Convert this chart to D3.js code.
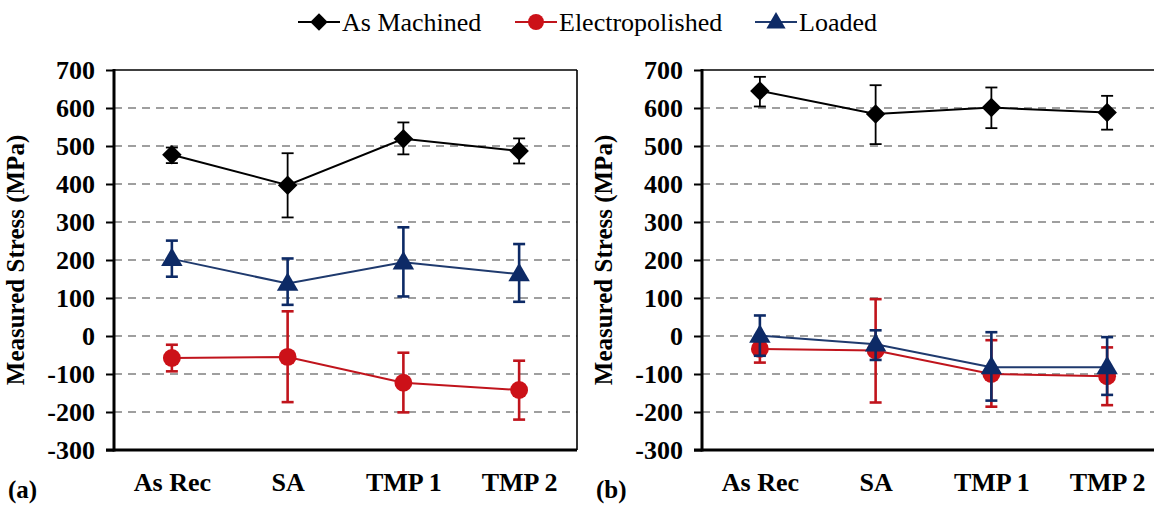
<!DOCTYPE html>
<html><head><meta charset="utf-8">
<script src="https://cdn.jsdelivr.net/npm/d3@7"></script>
<style>body{margin:0;background:#fff}svg{display:block}</style>
</head><body>
<svg id="c" width="1154" height="506"></svg>
<script>
const categories = ["As Rec", "SA", "TMP 1", "TMP 2"];
const yTicks = [700, 600, 500, 400, 300, 200, 100, 0, -100, -200, -300];
const seriesNames = ["As Machined", "Electropolished", "Loaded"];

// Panel (a)
const aMachined     = [477, 397, 519, 487];
const aMachinedLo   = [455, 312, 478, 454];
const aMachinedHi   = [496, 481, 562, 520];
const aElectro      = [-58, -55, -123, -142];
const aElectroLo    = [-93, -174, -201, -220];
const aElectroHi    = [-23, 65, -44, -65];
const aLoaded       = [203, 138, 194, 163];
const aLoadedLo     = [156, 82, 104, 90];
const aLoadedHi     = [251, 204, 286, 242];

// Panel (b)
const bMachined     = [645, 584, 601, 588];
const bMachinedLo   = [604, 505, 547, 543];
const bMachinedHi   = [682, 660, 654, 632];
const bElectro      = [-34, -38, -100, -106];
const bElectroLo    = [-70, -175, -186, -182];
const bElectroHi    = [-3, 97, -11, -30];
const bLoaded       = [1, -22, -82, -82];
const bLoadedLo     = [-52, -63, -170, -155];
const bLoadedHi     = [54, 15, 10, -3];

const diamond = {draw(ctx, size) { const r = Math.sqrt(size / 2); ctx.moveTo(0, -r); ctx.lineTo(r, 0); ctx.lineTo(0, r); ctx.lineTo(-r, 0); ctx.closePath(); }};

const styles = {
  "As Machined":     {line:"#000000", marker:"#000000", err:"#000000", sym:diamond, size:190},
  "Electropolished": {line:"#c0141c", marker:"#cc1118", err:"#c0141c", sym:d3.symbolCircle, size:250},
  "Loaded":          {line:"#1f3a6e", marker:"#0d2a66", err:"#0d2a66", sym:d3.symbolTriangle, size:200}
};

const svg = d3.select("#c");
const FONT = '"Liberation Serif"';
const fmt = d => String(d);
function txt(sel, size, bold) {
  return sel.style("font-family", FONT).style("font-size", size + "px")
    .style("font-weight", bold ? "bold" : "normal").attr("fill", "#000");
}

function panel(x0, tag, data) {
  const W = 463, top = 70, bottom = 450;
  const x = d3.scalePoint().domain(categories).range([x0, x0 + W]).padding(0.5);
  const y = d3.scaleLinear().domain([-300, 700]).range([bottom, top]);
  const g = svg.append("g");

  g.selectAll("line.grid").data(yTicks.filter(t => t !== 700 && t !== -300)).join("line")
    .attr("x1", x0).attr("x2", x0 + W).attr("y1", d => y(d)).attr("y2", d => y(d))
    .attr("stroke", "#808080").attr("stroke-width", 1.6).attr("stroke-dasharray", "8,6");

  g.append("line").attr("x1", x0).attr("x2", x0 + W).attr("y1", top).attr("y2", top)
    .attr("stroke", "#000").attr("stroke-width", 1.6);
  g.append("line").attr("x1", x0 + W).attr("x2", x0 + W).attr("y1", top).attr("y2", bottom)
    .attr("stroke", "#000").attr("stroke-width", 1.6);

  const yAxis = d3.axisLeft(y).tickValues(yTicks).tickSize(8).tickPadding(11).tickFormat(fmt);
  const ya = g.append("g").attr("transform", `translate(${x0},0)`).call(yAxis);
  ya.attr("font-family", null).attr("font-size", null);
  ya.select(".domain").remove();
  ya.selectAll(".tick line").attr("stroke", "#000").attr("stroke-width", 2);
  txt(ya.selectAll(".tick text"), 26, true).attr("dy", "0.33em");
  g.append("line").attr("x1", x0).attr("x2", x0).attr("y1", top - 1).attr("y2", bottom + 1.5)
    .attr("stroke", "#000").attr("stroke-width", 3);

  const xAxis = d3.axisBottom(x).tickSize(0).tickPadding(23);
  const xa = g.append("g").attr("transform", `translate(0,${bottom})`).call(xAxis);
  xa.attr("font-family", null).attr("font-size", null);
  xa.select(".domain").remove();
  txt(xa.selectAll(".tick text"), 26, true);
  g.append("line").attr("x1", x0 - 8).attr("x2", x0 + W).attr("y1", bottom).attr("y2", bottom)
    .attr("stroke", "#000").attr("stroke-width", 3);

  txt(g.append("text"), 25, true)
    .attr("transform", `translate(${x0 - 90},${(top + bottom) / 2}) rotate(-90)`)
    .attr("text-anchor", "middle").text("Measured Stress (MPa)");

  txt(g.append("text"), 25, true).attr("x", x0 - 106).attr("y", 498).text(tag);

  data.forEach(s => {
    const st = styles[s.name];
    const pts = categories.map((c, i) => ({c, v: s.v[i], lo: s.lo[i], hi: s.hi[i]}));
    const sg = g.append("g");
    const ew = s.name === "As Machined" ? 1.8 : 2.6;
    sg.append("path").datum(pts)
      .attr("d", d3.line().x(d => x(d.c)).y(d => y(d.v)))
      .attr("fill", "none").attr("stroke", st.line).attr("stroke-width", 2);
    sg.selectAll("line.eb").data(pts).join("line")
      .attr("x1", d => x(d.c)).attr("x2", d => x(d.c))
      .attr("y1", d => y(d.lo)).attr("y2", d => y(d.hi))
      .attr("stroke", st.err).attr("stroke-width", ew);
    ["lo", "hi"].forEach(k => {
      sg.selectAll("line.cap" + k).data(pts).join("line")
        .attr("x1", d => x(d.c) - 6).attr("x2", d => x(d.c) + 6)
        .attr("y1", d => y(d[k])).attr("y2", d => y(d[k]))
        .attr("stroke", st.err).attr("stroke-width", ew);
    });
    sg.selectAll("path.m").data(pts).join("path")
      .attr("transform", d => `translate(${x(d.c)},${y(d.v) + (s.name === "Loaded" ? 1 : 0)})`)
      .attr("d", d3.symbol().type(st.sym).size(st.size))
      .attr("fill", st.marker);
  });
}

panel(114, "(a)", [
  {name: "As Machined", v: aMachined, lo: aMachinedLo, hi: aMachinedHi},
  {name: "Loaded", v: aLoaded, lo: aLoadedLo, hi: aLoadedHi},
  {name: "Electropolished", v: aElectro, lo: aElectroLo, hi: aElectroHi}
]);
panel(702, "(b)", [
  {name: "As Machined", v: bMachined, lo: bMachinedLo, hi: bMachinedHi},
  {name: "Electropolished", v: bElectro, lo: bElectroLo, hi: bElectroHi},
  {name: "Loaded", v: bLoaded, lo: bLoadedLo, hi: bLoadedHi}
]);

const legX = [298, 515, 755];
const lg = svg.append("g");
seriesNames.forEach((n, i) => {
  const st = styles[n];
  const x0 = legX[i], yy = 22;
  lg.append("line").attr("x1", x0).attr("x2", x0 + 42).attr("y1", yy).attr("y2", yy)
    .attr("stroke", st.line).attr("stroke-width", 2.2);
  lg.append("path").attr("transform", `translate(${x0 + 21},${yy + (n === "Loaded" ? 1 : 0)})`)
    .attr("d", d3.symbol().type(st.sym).size(st.size * 0.8)).attr("fill", st.marker);
  txt(lg.append("text"), 26, false).attr("x", x0 + 44).attr("y", yy).attr("dy", "0.35em").text(n);
});
</script>
</body></html>
